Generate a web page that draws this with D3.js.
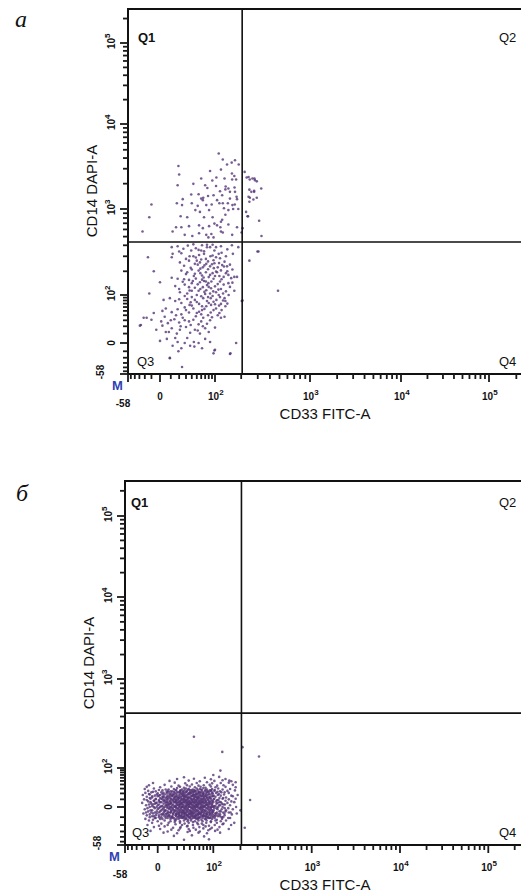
<!DOCTYPE html>
<html>
<head>
<meta charset="utf-8">
<script src="https://cdn.jsdelivr.net/npm/d3@7"></script>
<style>
body { margin: 0; background: #fff; }
svg { display: block; }
.tl { font-family: "Liberation Sans", Arial, sans-serif; font-size: 10px; font-weight: bold; fill: #111; }
.ttl { font-family: "Liberation Sans", Arial, sans-serif; font-size: 15px; fill: #111; }
.q { font-family: "Liberation Sans", Arial, sans-serif; font-size: 13px; fill: #111; }
</style>
</head>
<body>
<svg id="chart" width="521" height="892"></svg>
<script>
// axis values (logicle-like: -58 .. 2^18)
var axisDomain = [-58, 0, 100, 1000, 10000, 100000, 262143];
var majorTicks = [-58, 0, 100, 1000, 10000, 100000];
var tickBase = ["-58", "0", "10", "10", "10", "10"];
var tickExp = ["", "", "2", "3", "4", "5"];
var minorTicks = [-50, -40, -30, -20, -10, 10, 20, 30, 40, 50, 60, 70, 80, 90,
    200, 300, 400, 500, 600, 700, 800, 900, 2000, 3000, 4000, 5000, 6000, 7000, 8000, 9000,
    20000, 30000, 40000, 50000, 60000, 70000, 80000, 90000, 200000];
var quadrants = ["Q1", "Q2", "Q3", "Q4"];
var panelNames = ["а", "б"];
var xTitle = "CD33 FITC-A";
var yTitle = "CD14 DAPI-A";
var gateX = 205;
var gateY = 436;

// panel а: [CD33, CD14]
var pointsA = [
    [111,4520],[124,3850],[171,3770],[157,3540],[139,3360],[188,3360],[19,3230],[20,2560],[84,2820],[118,2930],
    [218,2750],[158,2630],[168,2460],[130,2300],[104,2360],[60,2300],[91,2180],[159,2240],[176,2240],[229,2360],
    [247,2240],[277,2300],[293,2130],[43,1990],[70,1915],[76,1780],[103,1880],[134,1850],[133,1710],[144,1750],
    [18,1915],[115,1630],[150,1600],[169,1800],[171,1600],[54,1500],[39,1490],[65,1360],[78,1430],[95,1460],
    [122,1460],[178,1400],[257,1600],[275,1600],[326,1750],[25,1310],[60,1330],[64,1276],[106,1276],[150,1330],
    [180,1310],[248,1360],[293,1360],[17,1170],[24,1114],[40,1170],[52,1090],[73,1114],[89,1130],[113,1170],
    [124,1170],[142,1170],[160,1114],[170,1130],[245,1220],[-10,1130],[47,973],[57,931],[81,973],[128,1020],
    [144,973],[163,1000],[186,1000],[226,931],[-13,813],[22,835],[32,813],[67,813],[92,813],[133,868],
    [122,765],[234,835],[310,745],[16,635],[23,635],[35,652],[55,665],[64,620],[81,652],[98,695],
    [106,665],[118,727],[116,635],[144,680],[180,635],[207,620],[-24,570],[12,570],[28,523],[41,508],
    [55,545],[73,523],[88,535],[118,570],[124,555],[159,523],[202,555],[328,508],[79,490],[95,490],
    [11,381],[18,390],[33,397],[43,410],[62,400],[75,406],[92,406],[26,365],[39,349],[54,355],
    [67,342],[84,381],[103,381],[118,390],[158,400],[186,381],[305,340],
    [264,2300],[240,2400],[280,2200],[245,1700],[275,1650],[240,1400],[270,1300],[237,833],[298,340],[245,267],
    [483,114],[203,78],[176,0],[152,-13],[-27,22],[-17,35],[9,-21],[98,-9],
    [-15,292],[11,292],[12,320],[23,325],[43,300],[50,267],[67,320],[72,280],[92,306],[103,292],[111,320],[135,300],[162,320],
    [21,255],[27,233],[35,267],[46,245],[57,255],[64,223],[73,245],[84,229],[98,249],[108,223],[122,237],[139,229],[-7,200],
    [23,204],[32,195],[40,210],[46,187],[54,204],[62,178],[72,195],[84,181],[103,199],[113,175],[127,171],[144,181],[168,171],[180,171],[11,167],
    [0,147],[18,162],[25,149],[35,157],[40,143],[48,163],[57,147],[67,152],[79,143],[95,162],[108,139],[127,137],[144,143],[15,131],[28,137],[35,127],
    [46,125],[54,114],[64,127],[73,116],[87,123],[103,109],[118,120],[135,112],[168,114],[-13,105],[21,109],[32,105],[40,114],[50,100],[70,103],[84,105],[111,100],
    [3,82],[9,88],[15,78],[23,72],[32,85],[38,74],[46,82],[55,69],[65,88],[75,78],[87,66],[104,82],[118,69],[133,78],[207,80],
    [-7,45],[2,50],[5,56],[11,47],[18,54],[23,42],[28,59],[35,46],[43,56],[50,45],[62,52],[73,62],[86,46],[103,56],[113,45],[133,62],[130,37],
    [-22,35],[-10,31],[1,28],[4,37],[7,25],[14,32],[20,26],[25,35],[35,28],[43,31],[54,23],[65,35],[84,30],[100,18],[118,35],
    [-29,21],[-4,15],[2,21],[5,12],[11,17],[17,10],[21,15],[30,19],[37,11],[46,15],[57,10],[70,17],[84,1],[44,1],
    [0,2],[6,4],[12,-3],[18,1],[23,-6],[28,0],[37,-3],[54,0],[62,-6],[100,-8],[95,-13],[150,-14],[9,-20],[24,-39],[19,-10],
    [30,280],[48,290],[60,275],[78,262],[95,270],[115,285],[130,260],[52,240],[68,235],[90,242],[112,250],[128,228],[150,240],
    [38,220],[58,215],[78,212],[96,218],[118,205],[140,200],[160,210],[30,185],[44,175],[58,190],[66,168],[80,170],[92,190],
    [100,175],[120,160],[135,190],[155,165],[27,160],[42,152],[52,138],[62,158],[75,135],[88,150],[100,130],[115,150],[150,128],
    [160,145],[20,120],[36,115],[58,120],[68,110],[80,128],[94,112],[110,118],[125,105],[145,100],[28,96],[40,92],[60,95],
    [78,92],[92,96],[115,92],[130,88],[20,84],[36,66],[50,75],[62,62],[80,72],[95,76],[112,64],[125,80],[140,70],[30,52],
    [40,64],[55,48],[68,55],[78,40],[95,52],[108,40],[120,52],[16,40],[28,30],[48,38],[60,28],[75,24],[90,36],[10,30],
    [22,20],[38,22],[52,14],[64,20],[80,12],[15,5],[32,5],[45,-4],[70,4],[8,12],[60,42],[100,68],[86,88],[72,150],
    [106,195],[85,300],[55,310],[36,300],[120,330],[98,350],[60,350],[140,360],[75,380],[20,340],[48,370]
];

// panel б: [CD33, CD14]
var pointsB = [
    [30,62],[74,60],[117,63],
    [20,56],[48,57],[92,55],[138,56],
    [11,50],[38,51],[61,49],[103,50],[128,52],[160,49],
    [-5,44],[17,45],[32,43],[54,44],[80,46],[96,43],[122,44],[150,45],
    [-10,38],[6,39],[22,37],[35,38],[44,40],[58,37],[71,38],[88,39],[111,37],[131,38],[166,39],
    [-13,34],[2,33],[13,35],[24,34],[30,32],[40,35],[50,33],[63,34],[76,32],[92,35],[106,33],[138,34],[178,33],
    [-16,29],[-4,30],[7,28],[16,29],[20,31],[27,28],[33,30],[38,29],[46,28],[54,30],[61,29],[70,31],[80,28],[96,29],[114,30],[128,28],[155,29],
    [-11,25],[-2,24],[4,26],[9,25],[14,24],[19,26],[24,25],[28,23],[35,25],[40,26],[44,24],[50,25],[58,23],[66,26],[74,25],[83,24],[92,26],[103,25],[120,24],[145,25],[175,26],
    [-15,21],[-7,22],[0,20],[5,21],[10,22],[13,20],[17,21],[22,22],[26,20],[30,21],[33,22],[38,20],[42,21],[48,22],[53,20],[58,21],[64,22],[71,20],[78,21],[86,22],[96,20],[108,21],[124,22],[150,21],
    [-19,17],[-9,18],[-3,16],[2,17],[6,18],[9,16],[12,17],[16,18],[20,16],[23,17],[27,18],[30,16],[35,17],[39,18],[44,16],[48,17],[53,18],[58,16],[62,17],[68,18],[75,16],[82,17],[90,18],[101,16],[113,17],[133,18],[160,16],[187,17],
    [-13,14],[-6,13],[0,15],[4,14],[7,12],[11,13],[14,15],[17,14],[21,12],[25,13],[28,15],[32,14],[36,12],[40,13],[45,15],[50,14],[55,12],[60,13],[66,15],[72,14],[79,12],[86,13],[95,15],[106,14],[118,12],[140,13],[166,15],
    [-17,10],[-8,11],[-2,10],[3,11],[6,9],[9,10],[13,11],[16,10],[19,9],[22,11],[26,10],[30,11],[33,9],[37,10],[42,11],[47,10],[52,9],[57,11],[63,10],[69,11],[76,9],[84,10],[92,11],[101,10],[111,9],[128,11],[150,10],[178,11],
    [-11,7],[-4,8],[1,7],[5,8],[8,6],[12,7],[15,8],[18,7],[22,6],[25,8],[29,7],[32,8],[36,6],[40,7],[44,8],[49,7],[54,6],[59,8],[65,7],[71,8],[78,6],[88,7],[98,8],[108,7],[122,6],[138,8],[160,7],
    [-20,5],[-7,4],[-1,5],[3,6],[7,5],[10,4],[13,5],[17,6],[20,5],[24,4],[27,5],[31,6],[35,5],[38,4],[42,5],[46,6],[51,5],[56,4],[61,5],[67,6],[74,5],[81,4],[90,5],[100,6],[112,5],[126,4],[145,5],[172,6],
    [-14,2],[-5,3],[0,2],[4,1],[8,2],[11,3],[14,2],[18,1],[22,2],[25,3],[28,2],[33,1],[37,2],[41,3],[45,2],[50,1],[55,2],[60,3],[66,2],[73,1],[80,2],[88,3],[96,2],[106,1],[117,2],[131,3],[155,2],
    [-9,0],[-3,-1],[2,0],[6,0],[9,-1],[12,0],[16,0],[19,-1],[23,0],[27,0],[30,-1],[34,0],[38,0],[43,-1],[48,0],[53,0],[58,-1],[64,0],[70,0],[77,-1],[85,0],[94,0],[103,-1],[114,0],[128,0],[148,-1],[180,0],
    [-16,-2],[-6,-3],[0,-2],[4,-2],[7,-3],[11,-2],[15,-2],[18,-3],[21,-2],[25,-2],[29,-3],[32,-2],[36,-2],[41,-3],[46,-2],[51,-2],[56,-3],[62,-2],[68,-2],[75,-3],[83,-2],[92,-2],[101,-3],[112,-2],[125,-2],[140,-3],[166,-2],
    [-11,-4],[-3,-5],[2,-4],[6,-4],[10,-5],[13,-4],[17,-4],[21,-5],[24,-4],[28,-4],[31,-5],[35,-4],[40,-4],[44,-5],[49,-4],[54,-4],[60,-5],[67,-4],[74,-4],[82,-5],[90,-4],[99,-4],[110,-5],[122,-4],[138,-4],[157,-5],
    [-18,-6],[-7,-5],[-1,-6],[4,-7],[8,-6],[12,-5],[15,-6],[19,-7],[23,-6],[27,-5],[30,-6],[34,-7],[39,-6],[43,-5],[48,-6],[53,-7],[59,-6],[65,-5],[72,-6],[80,-7],[89,-6],[98,-5],[108,-6],[120,-7],[134,-6],[150,-5],[183,-6],
    [-13,-8],[-4,-9],[1,-8],[5,-7],[10,-8],[14,-9],[18,-8],[22,-7],[26,-8],[30,-9],[35,-8],[39,-7],[44,-8],[50,-9],[56,-8],[62,-7],[69,-8],[77,-9],[86,-8],[96,-7],[107,-8],[119,-9],[135,-8],[162,-7],
    [-9,-10],[-2,-11],[3,-10],[8,-9],[12,-10],[16,-11],[21,-10],[25,-9],[29,-10],[33,-11],[38,-10],[43,-9],[49,-10],[55,-11],[62,-10],[70,-9],[79,-10],[88,-11],[99,-10],[113,-9],[130,-10],[148,-11],
    [-15,-12],[-5,-13],[2,-12],[7,-11],[12,-12],[17,-13],[22,-12],[27,-11],[32,-12],[37,-13],[43,-12],[50,-11],[57,-12],[65,-13],[74,-12],[84,-11],[96,-12],[110,-13],[126,-12],[155,-11],
    [-10,-14],[0,-15],[6,-14],[12,-15],[18,-14],[24,-15],[30,-14],[36,-15],[42,-14],[50,-15],[58,-14],[68,-15],[79,-14],[92,-15],[106,-14],[122,-15],[140,-14],
    [-6,-17],[3,-18],[10,-17],[17,-16],[24,-17],[31,-18],[38,-17],[46,-16],[55,-17],[66,-18],[78,-17],[92,-16],[110,-17],[131,-18],[172,-17],
    [-12,-20],[1,-21],[9,-20],[18,-19],[27,-20],[36,-21],[46,-20],[57,-19],[70,-20],[86,-21],[104,-20],[128,-19],
    [-4,-23],[6,-22],[15,-24],[25,-23],[35,-22],[47,-24],[60,-23],[76,-22],[95,-24],[118,-23],
    [2,-26],[13,-27],[24,-25],[38,-26],[52,-27],[70,-25],[90,-26],[112,-27],[150,-26],
    [-8,-29],[9,-30],[22,-28],[40,-29],[61,-30],[84,-28],[105,-29],
    [5,-32],[20,-33],[36,-31],[58,-32],[80,-33],[120,-32],
    [16,-38],[44,-37],[72,-39],[159,-20],[30,-46],[86,-45],
    [48,239],[127,159],[210,181],[310,140],[121,88],[100,70],[252,9],[222,-24],[200,-3],[178,46],[152,51],
    [1,27],[10,28],[18,27],[25,26],[31,27],[37,28],[43,27],[49,26],[56,27],[65,28],[76,27],[89,26],[104,27],
    [-5,23],[3,22],[8,23],[12,24],[16,23],[20,22],[24,23],[29,24],[34,23],[40,22],[46,23],[52,24],[60,23],[69,22],[80,23],[94,24],[112,23],[135,22],
    [-10,19],[-1,18],[4,19],[8,20],[11,19],[15,18],[19,19],[24,20],[28,19],[32,18],[37,19],[41,20],[46,19],[51,18],[56,19],[62,20],[69,19],[77,18],[85,19],[98,20],[116,19],
    [-6,15],[1,16],[5,15],[8,14],[11,15],[14,16],[18,15],[22,14],[25,15],[29,16],[33,15],[37,14],[42,15],[47,16],[52,15],[57,14],[64,15],[70,16],[78,15],[88,14],[99,15],[122,16],
    [-9,12],[-2,11],[2,12],[5,13],[9,12],[12,11],[16,12],[19,13],[23,12],[27,11],[30,12],[34,13],[38,12],[43,11],[48,12],[53,13],[58,12],[65,11],[71,12],[80,13],[90,12],[103,11],[130,12],
    [-13,9],[-4,8],[1,9],[4,10],[8,9],[11,8],[14,9],[18,10],[21,9],[24,8],[28,9],[31,10],[35,9],[39,8],[44,9],[49,10],[55,9],[61,8],[67,9],[74,10],[83,9],[94,8],[115,9],
    [-8,6],[-2,5],[2,6],[6,7],[9,6],[12,5],[16,6],[19,7],[23,6],[26,5],[30,6],[34,7],[38,6],[42,5],[47,6],[52,7],[58,6],[64,5],[70,6],[77,7],[86,6],[96,5],[118,6],
    [-10,3],[-3,4],[1,3],[5,4],[9,3],[12,4],[15,3],[19,4],[22,3],[26,4],[29,3],[33,4],[36,3],[40,4],[44,3],[48,4],[53,3],[58,4],[64,3],[70,4],[78,3],[85,4],[95,3],[109,4],[136,3],
    [-6,1],[-1,0],[3,1],[7,2],[10,1],[13,0],[17,1],[20,2],[24,1],[27,0],[31,1],[35,2],[39,1],[43,0],[47,1],[52,2],[57,1],[63,0],[69,1],[76,2],[84,1],[92,0],[102,1],[120,2],
    [-12,-1],[-4,0],[1,-1],[5,-1],[8,0],[11,-1],[14,-1],[18,0],[21,-1],[25,-1],[28,0],[32,-1],[36,-1],[40,0],[45,-1],[50,-1],[55,0],[61,-1],[67,-1],[73,0],[81,-1],[90,-1],[99,0],[110,-1],[135,-1],
    [-8,-3],[-1,-4],[3,-3],[6,-3],[9,-4],[13,-3],[16,-3],[20,-4],[23,-3],[27,-3],[30,-4],[34,-3],[38,-3],[43,-4],[47,-3],[53,-3],[58,-4],[65,-3],[71,-3],[79,-4],[87,-3],[96,-3],[118,-4],
    [-14,-5],[-5,-6],[1,-5],[5,-5],[9,-6],[12,-5],[16,-5],[19,-6],[23,-5],[26,-5],[30,-6],[33,-5],[37,-5],[42,-6],[46,-5],[51,-5],[57,-6],[63,-5],[70,-5],[77,-6],[86,-5],[95,-5],[105,-6],[130,-5],
    [-9,-7],[-2,-8],[3,-7],[7,-7],[11,-8],[15,-7],[19,-7],[23,-8],[27,-7],[32,-7],[36,-8],[41,-7],[46,-7],[51,-8],[57,-7],[64,-7],[71,-8],[79,-7],[90,-7],[101,-8],[115,-7],
    [-6,-9],[1,-10],[6,-9],[10,-9],[14,-10],[19,-9],[23,-9],[27,-10],[31,-9],[36,-9],[40,-10],[46,-9],[52,-9],[58,-10],[66,-9],[74,-9],[83,-10],[93,-9],[104,-9],[125,-10],
    [-3,-11],[4,-12],[9,-11],[14,-11],[19,-12],[24,-11],[29,-11],[34,-12],[40,-11],[46,-11],[53,-12],[60,-11],[68,-11],[77,-12],[90,-11],[104,-11]
];

var panels = [
    { name: panelNames[0], points: pointsA, label: [15, 27],
      xr: [128, 160, 215, 310, 401, 489, 527], yr: [374, 343, 295, 209, 124, 43, 9],
      q: [[138, 41.7], [499, 41.7], [137, 366], [499, 366]] },
    { name: panelNames[1], points: pointsB, label: [16, 501],
      xr: [125, 157.7, 213.3, 311.7, 400, 488.3, 525], yr: [845, 807, 768, 679, 597, 516, 481],
      q: [[131, 506.7], [499, 507], [132, 836.7], [499, 836.7]] }
];

var svg = d3.select("#chart");
var ink = "#111";
var xEnd = 521;

function drawPanel(p) {
    var x = d3.scaleSymlog().constant(30).domain(axisDomain).range(p.xr);
    var y = d3.scaleSymlog().constant(30).domain(axisDomain).range(p.yr);
    var x0 = x(-58), y0 = y(-58), yTop = y(262143);
    var g = svg.append("g");

    g.append("g").selectAll("circle")
        .data(p.points)
        .join("circle")
        .attr("cx", function(d) { return x(d[0]); })
        .attr("cy", function(d) { return y(d[1]); })
        .attr("r", 1.3)
        .attr("fill", "#553577")
        .attr("fill-opacity", 0.8);

    // gates
    g.append("path")
        .attr("d", "M" + x(gateX) + "," + yTop + "V" + y0 +
            "M" + x0 + "," + y(gateY) + "H" + xEnd)
        .attr("fill", "none")
        .attr("stroke", ink)
        .attr("stroke-width", 1.6);

    // frame
    g.append("path")
        .attr("d", "M" + xEnd + "," + yTop + "H" + x0 + "V" + y0 + "H" + xEnd)
        .attr("fill", "none")
        .attr("stroke", ink)
        .attr("stroke-width", 2);

    // ticks as thin bars, outside the frame
    var tickSet = minorTicks.map(function(v) { return [v, 5]; })
        .concat(majorTicks.map(function(v) { return [v, 8]; }));
    g.append("g").selectAll("rect")
        .data(tickSet)
        .join("rect")
        .attr("x", function(d) { return x(d[0]) - 0.9; })
        .attr("y", y0)
        .attr("width", 1.8)
        .attr("height", function(d) { return d[1]; })
        .attr("fill", "#1a1a1a");
    g.append("g").selectAll("rect")
        .data(tickSet)
        .join("rect")
        .attr("x", function(d) { return x0 - d[1]; })
        .attr("y", function(d) { return y(d[0]) - 0.9; })
        .attr("width", function(d) { return d[1]; })
        .attr("height", 1.8)
        .attr("fill", "#1a1a1a");

    // tick labels
    majorTicks.forEach(function(v, i) {
        if (i === 0) {
            g.append("text").attr("class", "tl")
                .attr("x", x0 - 5).attr("y", y0 + 33)
                .attr("text-anchor", "middle").text(tickBase[i]);
            g.append("text").attr("class", "tl")
                .attr("transform", "translate(" + (x0 - 24) + "," + (y0 - 2) + ") rotate(-90)")
                .attr("text-anchor", "middle").text(tickBase[i]);
            return;
        }
        var tx = g.append("text").attr("class", "tl").attr("y", y0 + 26);
        var ty = g.append("text").attr("class", "tl")
            .attr("transform", "translate(" + (x0 - 13) + "," + y(v) + ") rotate(-90)");
        [tx, ty].forEach(function(t, k) {
            if (tickExp[i]) {
                t.attr("text-anchor", "start").text(tickBase[i]);
                if (k === 0) t.attr("x", x(v) - 7); else t.attr("x", -6);
                t.append("tspan").attr("dy", -5).attr("font-size", 8).text(tickExp[i]);
            } else {
                t.attr("text-anchor", "middle").text(tickBase[i]);
                if (k === 0) t.attr("x", x(v)); else t.attr("x", 0);
            }
        });
    });

    g.append("text")
        .attr("x", x0 - 16).attr("y", y0 + 16)
        .attr("font-family", "Liberation Sans, Arial, sans-serif")
        .attr("font-size", 13).attr("font-weight", "bold")
        .attr("fill", "#2f3fb5").text("M");

    // titles
    g.append("text").attr("class", "ttl")
        .attr("x", 325).attr("y", y0 + 45)
        .attr("text-anchor", "middle").text(xTitle);
    g.append("text").attr("class", "ttl")
        .attr("transform", "translate(" + (x0 - 31) + "," + (yTop + 182) + ") rotate(-90)")
        .attr("text-anchor", "middle").text(yTitle);

    // quadrant names
    quadrants.forEach(function(q, i) {
        var t = g.append("text").attr("class", "q")
            .attr("x", p.q[i][0]).attr("y", p.q[i][1]).text(q);
        if (i === 0) t.attr("font-family", "Liberation Serif, Times New Roman, serif").attr("font-weight", "bold");
    });

    g.append("text")
        .attr("x", p.label[0]).attr("y", p.label[1])
        .attr("font-family", "Liberation Serif, Times New Roman, serif")
        .attr("font-style", "italic").attr("font-size", 24)
        .attr("fill", ink).text(p.name);
}

panels.forEach(drawPanel);
</script>
</body>
</html>
